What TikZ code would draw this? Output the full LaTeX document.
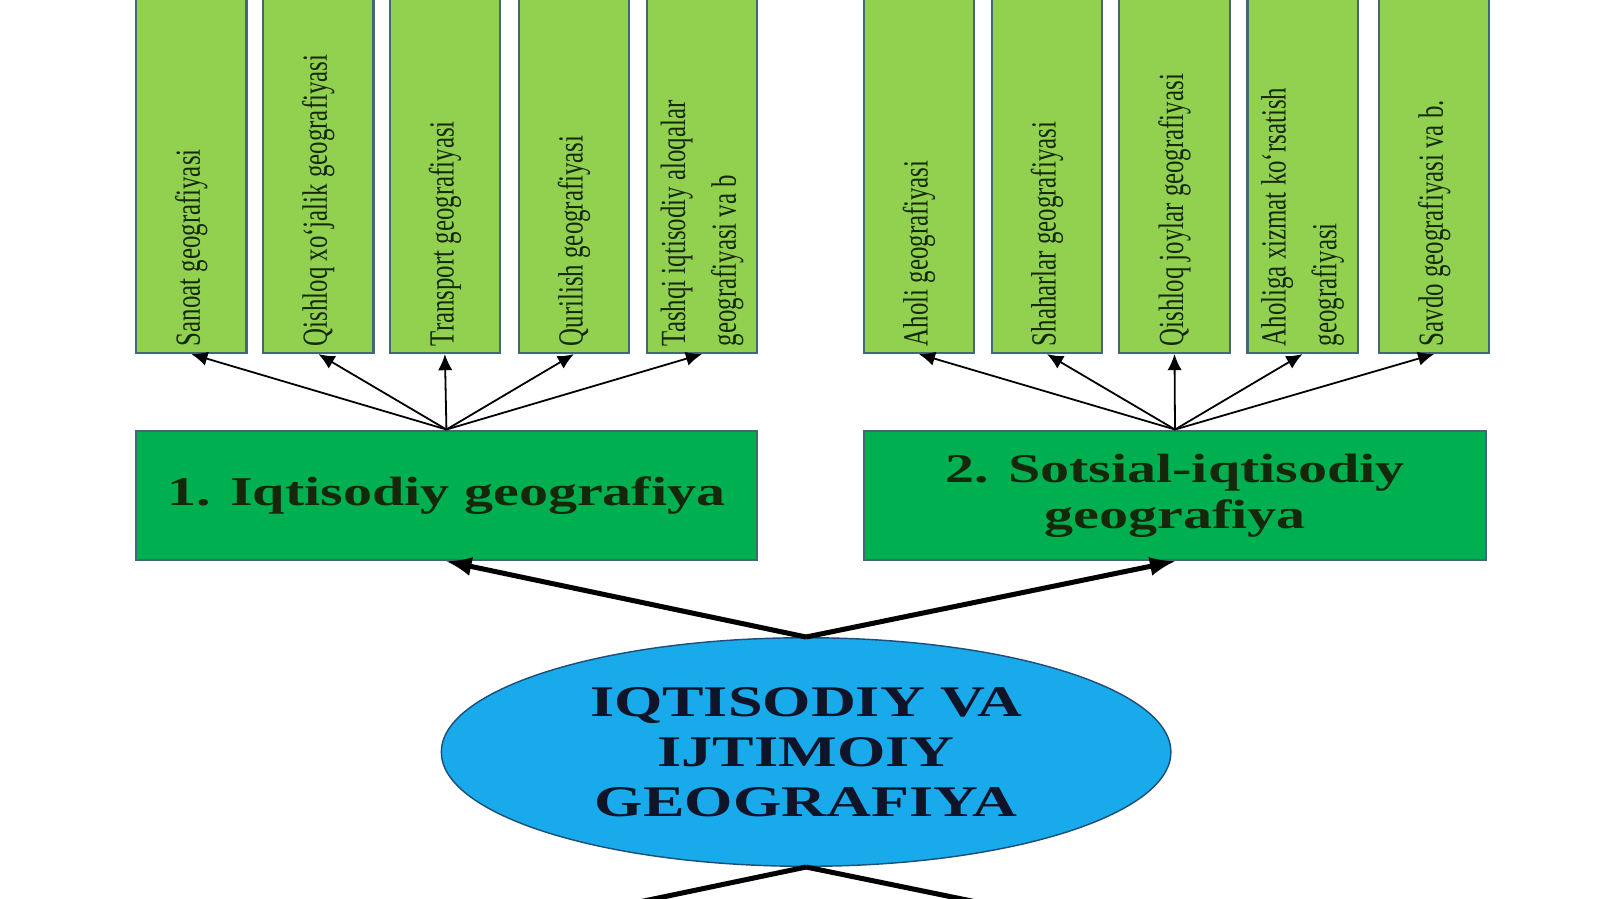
\documentclass[tikz,border=0pt]{standalone}
\usepackage{fontspec}
\setmainfont{Liberation Serif}
\newfontfamily\kengfont[FakeStretch=1.42]{Liberation Serif}
\newfontfamily\torfont[FakeStretch=0.704]{Liberation Serif}
\usetikzlibrary{shapes.geometric,arrows.meta}
\definecolor{ochyashil}{RGB}{146,208,80}
\definecolor{yashil}{RGB}{0,176,80}
\definecolor{moviy}{RGB}{25,170,235}
\definecolor{chegara}{RGB}{66,104,118}
\definecolor{toqmoviy}{RGB}{31,78,121}
\definecolor{matnrang}{RGB}{15,20,40}
\definecolor{yozuvrang}{RGB}{22,40,12}
\tikzset{
  kichik/.style={draw=chegara, fill=ochyashil, line width=.6pt, minimum width=1.08cm, minimum height=3.8cm, anchor=south, inner sep=0pt},
  yozuv/.style={rotate=90, anchor=west, align=left, inner sep=0pt, text=yozuvrang, font=\torfont\fontsize{9.85}{14.2}\selectfont},
  katta/.style={draw=chegara, fill=yashil, line width=.6pt, minimum width=6.09cm, minimum height=1.27cm, align=center, text=yozuvrang, font=\kengfont\bfseries\fontsize{11.4}{12.8}\selectfont},
  ingichka/.style={-{Latex[length=4.5pt,width=4pt]}, line width=.5pt},
}

\begin{document}
\begin{tikzpicture}[>=latex]
\useasboundingbox (0,0) rectangle (15.68,8.81);

\node[katta] (iqt) at (4.375,3.955) {1. Iqtisodiy geografiya};
\node[katta] (sots) at (11.515,3.955) {2. Sotsial-iqtisodiy\\geografiya};
\node[ellipse, draw=toqmoviy, fill=moviy, minimum width=7.15cm, minimum height=2.24cm, inner sep=0pt, align=center, text=matnrang, font=\kengfont\bfseries\fontsize{12.2}{14}\selectfont] (asos) at (7.9,1.44) {IQTISODIY VA\\IJTIMOIY\\GEOGRAFIYA};

% iqtisodiy tarmoqlar
\foreach \x/\t/\n in {1.875/{Sanoat geografiyasi}/l1, 3.12/{Qishloq xo‘jalik geografiyasi}/l2, 4.36/{Transport geografiyasi}/l3, 5.625/{Qurilish geografiyasi}/l4, 6.88/{Tashqi iqtisodiy aloqalar\\geografiyasi va b}/l5}
{
    \node[kichik] (\n) at (\x,5.34) {};
    \node[yozuv] at ([yshift=.07cm]\n.south) {\t};
    \draw[ingichka] (iqt.north) -- (\n.south);
}

% sotsial tarmoqlar
\foreach \x/\t/\n in {9.005/{Aholi geografiyasi}/r1, 10.26/{Shaharlar geografiyasi}/r2, 11.51/{Qishloq joylar geografiyasi}/r3, 12.765/{Aholiga xizmat ko‘rsatish\\geografiyasi}/r4, 14.055/{Savdo geografiyasi va b.}/r5}
{
    \node[kichik] (\n) at (\x,5.34) {};
    \node[yozuv] at ([yshift=.07cm]\n.south) {\t};
    \draw[ingichka] (sots.north) -- (\n.south);
}

\draw[->, line width=1.4pt] (asos.north) -- (iqt.south);
\draw[->, line width=1.4pt] (asos.north) -- (sots.south);

\coordinate (past1) at (5.45,-0.2);
\coordinate (past2) at (10.4,-0.2);
\draw[line width=1.4pt] (asos.south) -- (past1);
\draw[line width=1.4pt] (asos.south) -- (past2);
\end{tikzpicture}
\end{document}
